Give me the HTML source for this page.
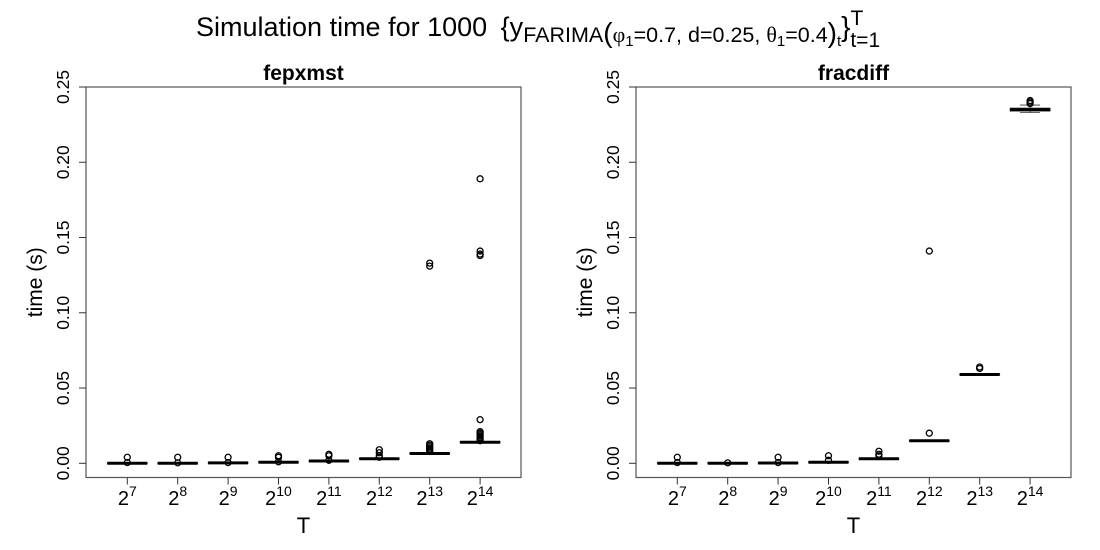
<!DOCTYPE html>
<html><head><meta charset="utf-8"><style>
html,body{margin:0;padding:0;background:#fff;}
svg{display:block;font-family:"Liberation Sans",Arial,sans-serif;}
</style></head><body>
<svg id="chart" width="1100" height="550" viewBox="0 0 1100 550" xmlns="http://www.w3.org/2000/svg">
<text x="196" y="36" font-size="27" fill="#000">Simulation time for 1000 <tspan font-size="27" dx="6">{y</tspan><tspan font-size="21.5" dy="6">FARIMA</tspan><tspan font-size="28" dy="0">(</tspan><tspan font-size="22" font-family="Liberation Serif, serif">φ</tspan><tspan font-size="15" dy="4">1</tspan><tspan font-size="21.5" dy="-4">=0.7, d=0.25, </tspan><tspan font-size="22" font-family="Liberation Serif, serif">θ</tspan><tspan font-size="15" dy="4">1</tspan><tspan font-size="21.5" dy="-4">=0.4</tspan><tspan font-size="28">)</tspan><tspan font-size="15" dy="4">t</tspan><tspan font-size="28" dy="-10">}</tspan><tspan font-size="21" dy="-11">T</tspan><tspan font-size="21" dx="-13" dy="22">t=1</tspan></text>
</svg>
<script>
const categories = [7,8,9,10,11,12,13,14];
const yTicks = [0,0.05,0.10,0.15,0.20,0.25];
const yTickLabels = ["0.00","0.05","0.10","0.15","0.20","0.25"];
// fepxmst
const fepMedian = [0.0000,0.0000,0.0003,0.0007,0.0015,0.0030,0.0065,0.0140];
const fepQ1 = [0.0000,0.0000,0.0002,0.0005,0.0013,0.0028,0.0062,0.0137];
const fepQ3 = [0.0002,0.0002,0.0005,0.0009,0.0017,0.0033,0.0068,0.0145];
const fepOutliers = [[0.004,0.0005],[0.004,0.0003],[0.004,0.0005],[0.005,0.004,0.001],[0.006,0.005,0.002],[0.009,0.007,0.005,0.004],[0.133,0.131,0.013,0.012,0.011,0.010,0.009,0.008],[0.189,0.141,0.139,0.138,0.029,0.021,0.020,0.019,0.018,0.017,0.016,0.015]];
// fracdiff
const fdMedian = [0.0000,0.0000,0.0002,0.0007,0.0030,0.0150,0.0590,0.2350];
const fdQ1 = [0.0000,0.0000,0.0001,0.0005,0.0028,0.0148,0.0588,0.2340];
const fdQ3 = [0.0002,0.0002,0.0004,0.0009,0.0033,0.0152,0.0592,0.2360];
const fdWhiskLo = [0,0,0,0.0003,0.0025,0.0146,0.0585,0.2330];
const fdWhiskHi = [0.0003,0.0003,0.0006,0.0012,0.0036,0.0155,0.0595,0.2380];
const fdOutliers = [[0.004,0.0005],[0.0003],[0.004,0.0005],[0.005,0.002],[0.008,0.006,0.005],[0.141,0.020],[0.064,0.063],[0.241,0.240,0.239]];

const NS='http://www.w3.org/2000/svg';
const svg=document.getElementById('chart');
function mk(tag,attrs,parent){const e=document.createElementNS(NS,tag);for(const k in attrs)e.setAttribute(k,attrs[k]);(parent||svg).appendChild(e);return e;}

function panel(ox,title,med,q1,q3,wlo,whi,outs,key){
  const g=mk('g',{});
  
  
  const left=ox, right=ox+435, top=87, bottom=477.5;
  const x0=ox+41.3, dx=50.4;
  const xs=i=>x0+i*dx;
  const ys=v=>463.3-v*(376.3/0.25);
  const frame=mk('rect',{x:left,y:top,width:right-left,height:bottom-top,fill:'none',stroke:'#555','stroke-width':1.2},g);
  
  
  const t=mk('text',{x:(left+right)/2,y:80,'font-size':21,'font-weight':'bold','text-anchor':'middle'},g);
  t.textContent=title;
  
  
  yTicks.forEach((v,i)=>{
    const y=ys(v);
    const tk=mk('line',{x1:left-7,x2:left,y1:y,y2:y,stroke:'#333','stroke-width':1},g);
    
    
    const lb=mk('text',{x:0,y:0,'font-size':17.5,'text-anchor':'middle',transform:`translate(${left-17},${y}) rotate(-90)`},g);
    lb.textContent=yTickLabels[i];
    
    
  });
  const yt=mk('text',{x:0,y:0,'font-size':21,'text-anchor':'middle',transform:`translate(${left-44},${(top+bottom)/2}) rotate(-90)`},g);
  yt.textContent='time (s)';
  
  
  const xt=mk('text',{x:(left+right)/2,y:533,'font-size':22,'text-anchor':'middle'},g);
  xt.textContent='T';
  
  
  categories.forEach((c,i)=>{
    const x=xs(i);
    const tk=mk('line',{x1:x,x2:x,y1:bottom,y2:bottom+7,stroke:'#333','stroke-width':1},g);
    
    
    const lb=mk('text',{x:x,y:505,'font-size':20,'text-anchor':'middle'},g);
    
    
    const b=document.createElementNS(NS,'tspan');b.textContent='2';lb.appendChild(b);
    const s=document.createElementNS(NS,'tspan');s.setAttribute('font-size','14');s.setAttribute('dy','-9');s.textContent=String(c);lb.appendChild(s);
    const bw=40;
    const bg=mk('g',{},g);
    
    
    if(wlo){
      mk('line',{x1:x,x2:x,y1:ys(whi[i]),y2:ys(q3[i]),stroke:'#333','stroke-width':0.8},bg);
      mk('line',{x1:x,x2:x,y1:ys(wlo[i]),y2:ys(q1[i]),stroke:'#333','stroke-width':0.8},bg);
      mk('line',{x1:x-bw/4,x2:x+bw/4,y1:ys(whi[i]),y2:ys(whi[i]),stroke:'#333','stroke-width':0.8},bg);
      mk('line',{x1:x-bw/4,x2:x+bw/4,y1:ys(wlo[i]),y2:ys(wlo[i]),stroke:'#333','stroke-width':0.8},bg);
    }
    mk('rect',{x:x-bw/2,y:ys(q3[i]),width:bw,height:Math.max(0.5,ys(q1[i])-ys(q3[i])),fill:'none',stroke:'#333','stroke-width':0.8},bg);
    mk('line',{x1:x-bw/2,x2:x+bw/2,y1:ys(med[i]),y2:ys(med[i]),stroke:'#000','stroke-width':3},bg);
    outs[i].forEach(v=>{
      const o=mk('circle',{cx:x,cy:ys(v),r:3,fill:'none',stroke:'#000','stroke-width':1.3},bg);
      
      
    });
  });
}
panel(86,'fepxmst',fepMedian,fepQ1,fepQ3,null,null,fepOutliers,'fepxmst');
panel(636,'fracdiff',fdMedian,fdQ1,fdQ3,fdWhiskLo,fdWhiskHi,fdOutliers,'fracdiff');
</script>
</body></html>
